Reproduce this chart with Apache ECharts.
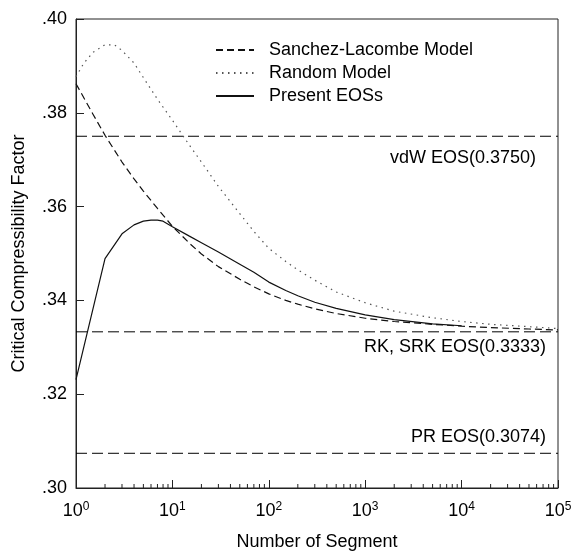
<!DOCTYPE html>
<html>
<head>
<meta charset="utf-8">
<script src="https://cdn.jsdelivr.net/npm/echarts@6/dist/echarts.min.js"></script>
<style>html,body{margin:0;padding:0;background:#fff;}#c{width:576px;height:556px;}</style>
</head>
<body>
<div id="c"></div>
<script>
// ---- data ----
const seriesNames = ['Sanchez-Lacombe Model', 'Random Model', 'Present EOSs'];

const xSanchez = [1, 1.5, 2, 3, 4, 5, 7, 10, 15, 20, 30, 50, 70, 100, 150, 200, 300, 500, 1000, 2000, 5000, 10000, 20000, 50000, 100000];
const ySanchez = [0.3862, 0.3797, 0.3752, 0.3695, 0.3659, 0.3633, 0.3596, 0.3558, 0.3522, 0.3499, 0.3472, 0.3445, 0.3429, 0.3414, 0.3400, 0.3392, 0.3382, 0.3372, 0.3362, 0.3355, 0.3349, 0.3345, 0.3342, 0.3339, 0.3337];

const xRandom = [1, 1.2, 1.5, 2, 2.5, 3, 4, 5, 7, 10, 15, 20, 30, 50, 70, 100, 150, 200, 300, 500, 1000, 2000, 5000, 10000, 20000, 50000, 100000];
const yRandom = [0.3877, 0.3905, 0.3929, 0.3945, 0.3945, 0.3933, 0.3906, 0.3875, 0.3829, 0.3784, 0.3731, 0.3695, 0.3643, 0.3585, 0.3547, 0.3511, 0.3483, 0.3465, 0.3443, 0.3418, 0.3395, 0.3377, 0.3363, 0.3355, 0.3349, 0.3344, 0.3340];

const xPresent = [1, 2, 3, 4, 5, 6, 7, 8, 10, 15, 20, 30, 50, 70, 100, 150, 200, 300, 500, 1000, 2000, 5000, 10000];
const yPresent = [0.3231, 0.3489, 0.3542, 0.3561, 0.3569, 0.3571, 0.3571, 0.3569, 0.3557, 0.3537, 0.3523, 0.3503, 0.3477, 0.3460, 0.3439, 0.3421, 0.3410, 0.3396, 0.3383, 0.3369, 0.3359, 0.3350, 0.3346];

const refValues = [0.3750, 0.3333, 0.3074];
const refLabels = ['vdW EOS(0.3750)', 'RK, SRK EOS(0.3333)', 'PR EOS(0.3074)'];

const xTickExponents = ['0', '1', '2', '3', '4', '5'];
const yTickLabels = ['.30', '.32', '.34', '.36', '.38', '.40'];

const xMin = 1, xMax = 100000;
const yMin = 0.30, yMax = 0.40;

// ---- chart ----
const FONT = 'Liberation Sans, Arial, Helvetica, sans-serif';
const FS = 18;
const zip = (xs, ys) => xs.map((x, i) => [x, ys[i]]);

const minorTicks = [];
for (let e = 0; e < 5; e++) for (let k = 2; k <= 9; k++) minorTicks.push([k * Math.pow(10, e), yMin]);

const refOffsets = [[-22, 22], [-12, 15], [-12, -16]];

const chart = echarts.init(document.getElementById('c'), null, {renderer: 'canvas'});
chart.setOption({
  animation: false,
  backgroundColor: '#fff',
  textStyle: {fontFamily: FONT, color: '#000'},
  grid: {left: 76, right: 18, top: 19, bottom: 59, show: true, borderColor: '#222', borderWidth: 1, backgroundColor: 'transparent'},
  legend: {
    data: seriesNames,
    orient: 'vertical',
    left: 210, top: 36,
    itemWidth: 38, itemHeight: 14, itemGap: 5,
    itemStyle: {opacity: 0},
    textStyle: {fontFamily: FONT, fontSize: FS, color: '#000', padding: [0, 0, 0, 10]}
  },
  xAxis: {
    type: 'log', logBase: 10, min: xMin, max: xMax,
    name: 'Number of Segment', nameLocation: 'middle', nameGap: 45,
    nameTextStyle: {fontFamily: FONT, fontSize: FS, color: '#000'},
    axisLine: {lineStyle: {color: '#222', width: 1}},
    axisTick: {inside: true, length: 8, lineStyle: {color: '#222'}},
    splitLine: {show: false},
    axisLabel: {
      margin: 13,
      formatter: function (v) {
        const e = Math.round(Math.log10(v));
        return '{b|10}{s|' + xTickExponents[e] + '}';
      },
      rich: {
        b: {fontFamily: FONT, fontSize: FS, color: '#000'},
        s: {fontFamily: FONT, fontSize: 12, color: '#000', verticalAlign: 'bottom', padding: [0, 0, 9, 0]}
      }
    }
  },
  yAxis: {
    type: 'value', min: yMin, max: yMax, interval: 0.02,
    name: 'Critical Compressibility Factor', nameLocation: 'middle', nameGap: 48,
    nameTextStyle: {fontFamily: FONT, fontSize: FS, color: '#000'},
    axisLine: {show: true, lineStyle: {color: '#222', width: 1}},
    axisTick: {inside: true, length: 8, lineStyle: {color: '#222'}},
    splitLine: {show: false},
    axisLabel: {
      margin: 9, fontFamily: FONT, fontSize: FS, color: '#000',
      formatter: function (v) {
        const i = Math.round((v - yMin) / 0.02);
        return yTickLabels[i];
      }
    }
  },
  series: [
    ...refValues.map((v, i) => ({
      type: 'line', name: 'ref' + i, data: [[xMin, v], [xMax, v]],
      symbol: 'none', silent: true, z: 1,
      lineStyle: {color: '#000', width: 1, type: [11, 5]}
    })),
    {
      type: 'scatter', name: 'refLabels', symbolSize: 0, silent: true, z: 5,
      itemStyle: {opacity: 1},
      data: refValues.map((v, i) => ({
        value: [xMax, v],
        label: {show: true, position: 'left', distance: 0, offset: refOffsets[i], formatter: refLabels[i],
          fontFamily: FONT, fontSize: FS, color: '#000'}
      }))
    },
    {
      type: 'line', name: seriesNames[0], data: zip(xSanchez, ySanchez),
      symbol: 'none', z: 3, itemStyle: {color: '#111'},
      lineStyle: {color: '#111', width: 1.2, type: [7, 4]}
    },
    {
      type: 'line', name: seriesNames[1], data: zip(xRandom, yRandom),
      symbol: 'none', z: 3, itemStyle: {color: '#555'},
      lineStyle: {color: '#555', width: 1.2, type: [1.5, 4.5]}
    },
    {
      type: 'line', name: seriesNames[2], data: zip(xPresent, yPresent),
      symbol: 'none', z: 3, itemStyle: {color: '#111'},
      lineStyle: {color: '#111', width: 1.2, type: 'solid'}
    },
    {
      type: 'custom', name: 'minorTicks', data: minorTicks, silent: true, z: 4,
      renderItem: function (params, api) {
        const p = api.coord([api.value(0), api.value(1)]);
        return {type: 'line', shape: {x1: p[0], y1: p[1], x2: p[0], y2: p[1] - 4},
          style: {stroke: '#222', lineWidth: 1}};
      }
    }
  ]
});
</script>
</body>
</html>
